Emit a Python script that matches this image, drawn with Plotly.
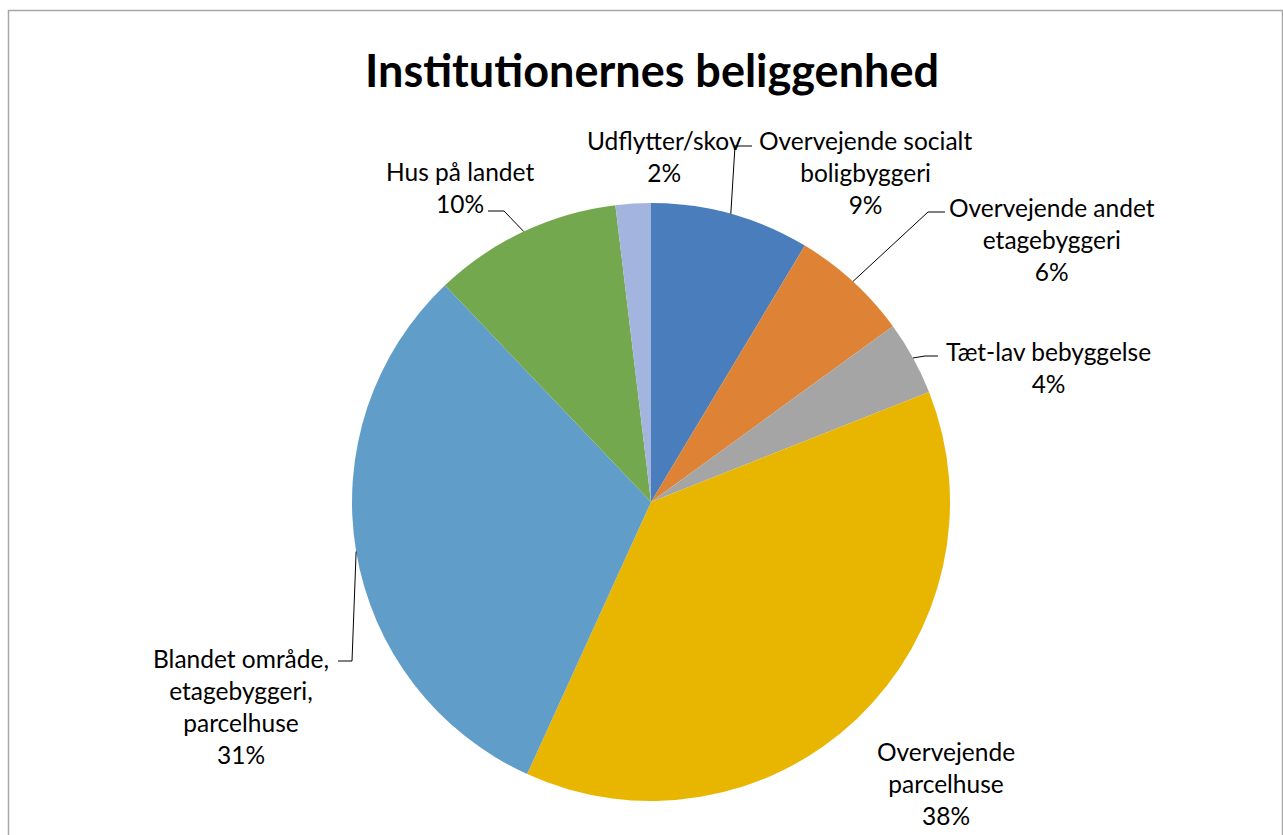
import math
import plotly.graph_objects as go

# ---- data ----
categories = [
    "Overvejende socialt boligbyggeri",
    "Overvejende andet etagebyggeri",
    "Tæt-lav bebyggelse",
    "Overvejende parcelhuse",
    "Blandet område, etagebyggeri, parcelhuse",
    "Hus på landet",
    "Udflytter/skov",
]
label_lines = [
    "Overvejende socialt<br>boligbyggeri",
    "Overvejende andet<br>etagebyggeri",
    "Tæt-lav bebyggelse",
    "Overvejende<br>parcelhuse",
    "Blandet område,<br>etagebyggeri,<br>parcelhuse",
    "Hus på landet",
    "Udflytter/skov",
]
values = [8.6, 6.4, 4.0, 37.8, 31.1, 10.2, 1.9]
colors = ["#4A7DBB", "#DE8336", "#A5A5A5", "#E8B600", "#619DC9", "#74A84F", "#A3B4DF"]
title_text = "Institutionernes beliggenhed"

# ---- layout constants (pixels) ----
W, H = 1283, 835
CX, CY, R = 651, 502, 299
FONT = "Lato, 'Open Sans', sans-serif"
LABEL_SIZE = 24.5

# label centre positions and leader-line bend/end points (px); None = no leader
label_pos = [(865, 172), (1052, 239), (1048, 367), (946, 783), (241, 706), (460, 188), (664, 157)]
leader_bend = [(735, 146), (928, 212), (925, 356), None, (352, 661), (504, 211), None]
leader_end = [(752, 146), (945, 212), (938, 356), None, (338, 661), (488, 211), None]


def px(x):
    return x / W


def py(y):
    return 1 - y / H


fig = go.Figure()
fig.add_trace(go.Pie(
    labels=categories,
    values=values,
    sort=False,
    direction="clockwise",
    rotation=0,
    marker=dict(colors=colors, line=dict(width=0)),
    textinfo="none",
    hoverinfo="label+percent",
    showlegend=False,
    domain=dict(x=[px(CX - R), px(CX + R)], y=[py(CY + R), py(CY - R)]),
))

total = sum(values)
annotations = []
shapes = []
cum = 0.0
for i, v in enumerate(values):
    pct = round(100 * v / total)
    mid = (cum + v / 2) / total * 2 * math.pi
    cum += v
    lx, ly = label_pos[i]
    annotations.append(dict(
        x=px(lx), y=py(ly), xref="paper", yref="paper",
        text=f"{label_lines[i]}<br>{pct}%", showarrow=False,
        font=dict(family=FONT, size=LABEL_SIZE, color="#000000"),
        align="center", xanchor="center", yanchor="middle",
    ))
    if leader_bend[i] is not None:
        ax = CX + R * math.sin(mid)
        ay = CY - R * math.cos(mid)
        bx, by = leader_bend[i]
        ex, ey = leader_end[i]
        path = f"M {px(ax)} {py(ay)} L {px(bx)} {py(by)} L {px(ex)} {py(ey)}"
        shapes.append(dict(type="path", xref="paper", yref="paper", path=path,
                           line=dict(color="#000000", width=1)))

# chart-area border
shapes.append(dict(type="rect", xref="paper", yref="paper",
                   x0=px(8.5), x1=px(1282.5), y0=py(900), y1=py(10.5),
                   line=dict(color="#A6A6A6", width=1.5)))

annotations.append(dict(
    x=px(652), y=py(70), xref="paper", yref="paper", text=f"<b>{title_text}</b>",
    showarrow=False, font=dict(family=FONT, size=45, color="#000000"),
    xanchor="center", yanchor="middle",
))

fig.update_layout(
    width=W, height=H, margin=dict(l=0, r=0, t=0, b=0),
    paper_bgcolor="#FFFFFF", plot_bgcolor="#FFFFFF",
    annotations=annotations, shapes=shapes,
)

fig.write_html("out.html")
